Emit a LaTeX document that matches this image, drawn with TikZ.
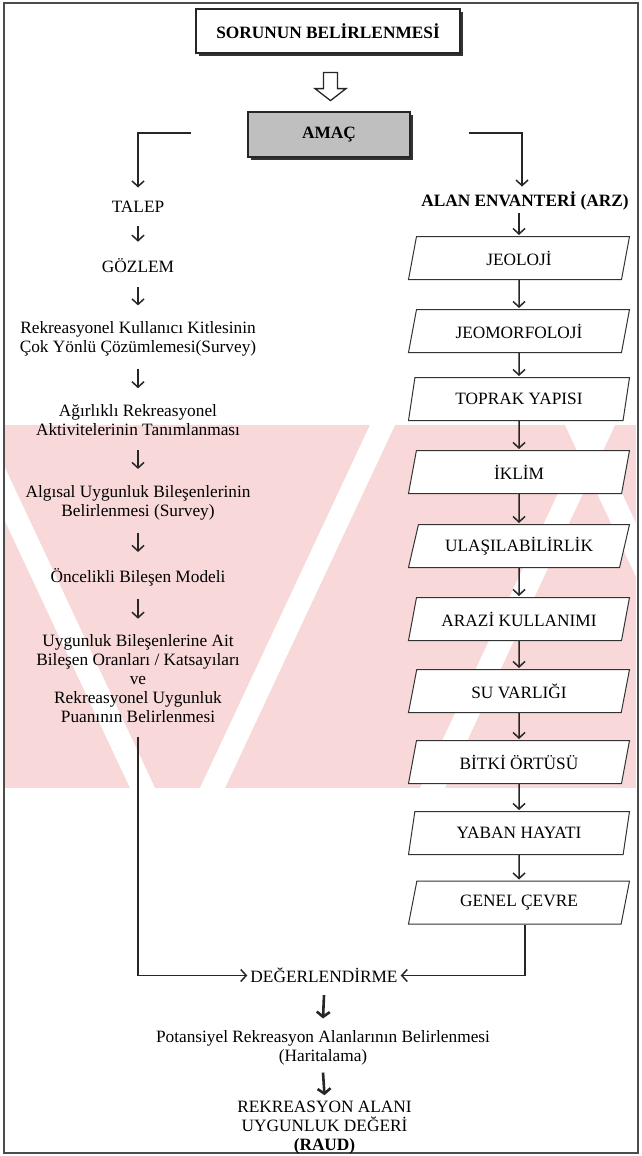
\documentclass[tikz,border=0pt]{standalone}
\usepackage{fontspec}
\setmainfont{Liberation Serif}
\usetikzlibrary{arrows.meta,shapes.geometric,calc,shadows}
\definecolor{wm}{RGB}{248,216,216}
\newcommand\fsz{\fontsize{17.3}{19}\selectfont}
\begin{document}
\begin{tikzpicture}[x=1pt,y=-1pt,
  every node/.style={font=\fsz, text=black, inner sep=0pt, align=center},
  bnode/.style={font=\fsz\bfseries},
  arr/.style={draw=black!85, line width=1.5pt, -{Straight Barb[length=5.5pt,width=12pt]}},
  barr/.style={draw=black!85, line width=2.6pt, -{Straight Barb[length=5pt,width=13pt]}},
  topbox/.style={draw=black!85, line width=1.2pt, fill=white, minimum width=264pt, minimum height=44pt,
     font=\fsz\bfseries, drop shadow={shadow xshift=3pt, shadow yshift=-3pt, fill=black!80, opacity=1}},
  amacbox/.style={draw=black!85, line width=1.2pt, fill=black!25, minimum width=162pt, minimum height=45pt,
     font=\fsz\bfseries, drop shadow={shadow xshift=3pt, shadow yshift=-3pt, fill=black!80, opacity=1}},
  para/.style={draw=black!80, line width=1pt, fill=white, trapezium, trapezium left angle=61,
     trapezium right angle=119, trapezium stretches body, minimum width=221pt, minimum height=43pt},
  hollow/.style={draw=black!85, line width=1.3pt, fill=white, line join=miter}
]
\useasboundingbox (0,0) rectangle (641,1156);
% watermark band
\begin{scope}
  \clip (5,425) rectangle (636,788);
  \fill[wm] (5,425) rectangle (636,788);
  \fill[white] (-40,425) -- (-15,425) -- (155,788) -- (130,788) -- cycle;
  \fill[white] (200,788) -- (225,788) -- (395,425) -- (370,425) -- cycle;
  \fill[white] (420,788) -- (445,788) -- (615,425) -- (590,425) -- cycle;
  \fill[white] (565,425) -- (590,425) -- (760,788) -- (735,788) -- cycle;
\end{scope}
% frame
\draw[line width=2.4pt, black!70] (4,3) rectangle (638,1153);

% top
\node[topbox] (sorun) at (328,31) {SORUNUN BELİRLENMESİ};
\node[amacbox] (amac) at (329,134.5) {AMAÇ};
\coordinate (ha) at ($(sorun.south)+(2.5,0)$);
\draw[hollow] ($(ha)+(-7,19)$) -- ($(ha)+(7,19)$) -- ($(ha)+(7,35)$) -- ($(ha)+(15.5,35)$)
   -- ($(ha)+(0,47)$) -- ($(ha)+(-15.5,35)$) -- ($(ha)+(-7,35)$) -- cycle;

% left column
\node (talep) at (138,206.4) {TALEP};
\node (gozlem) at (138,266) {GÖZLEM};
\node (rek) at (138,339) {Rekreasyonel Kullanıcı Kitlesinin\\Çok Yönlü Çözümlemesi(Survey)};
\node (agir) at (138,420) {Ağırlıklı Rekreasyonel\\Aktivitelerinin Tanımlanması};
\node (algi) at (138,502.5) {Algısal Uygunluk Bileşenlerinin\\Belirlenmesi (Survey)};
\node (once) at (138,577) {Öncelikli Bileşen Modeli};
\node (uyg) at (138,679) {Uygunluk Bileşenlerine Ait\\Bileşen Oranları / Katsayıları\\ve\\Rekreasyonel Uygunluk\\Puanının Belirlenmesi};

\draw[arr] ($(amac.west)+(-56,-1.5)$) -| ($(talep.north)+(0,-13)$);
\draw[arr] ($(talep.south)+(0,14)$) -- ($(gozlem.north)+(0,-17)$);
\draw[arr] ($(gozlem.south)+(0,14)$) -- ($(rek.north)+(0,-16)$);
\draw[arr] ($(rek.south)+(0,12)$) -- ($(agir.north)+(0,-16)$);
\draw[arr] ($(agir.south)+(0,14)$) -- ($(algi.north)+(0,-16)$);
\draw[arr] ($(algi.south)+(0,13)$) -- ($(once.north)+(0,-16)$);
\draw[arr] ($(once.south)+(0,13)$) -- ($(uyg.north)+(0,-16)$);

% right column
\node[bnode] (arz) at (525,201) {ALAN ENVANTERİ (ARZ)};
\node[para] (j1) at (519,258) {JEOLOJİ};
\node[para] (j2) at (519,331) {JEOMORFOLOJİ};
\node[para] (j3) at (519,399) {TOPRAK YAPISI};
\node[para] (j4) at (519,472) {İKLİM};
\node[para] (j5) at (519,546) {ULAŞILABİLİRLİK};
\node[para] (j6) at (519,619) {ARAZİ KULLANIMI};
\node[para] (j7) at (519,691) {SU VARLIĞI};
\node[para] (j8) at (519,762) {BİTKİ ÖRTÜSÜ};
\node[para] (j9) at (519,833) {YABAN HAYATI};
\node[para] (j10) at (519,902.5) {GENEL ÇEVRE};

\draw[arr] ($(amac.east)+(58,-1.5)$) -| ($(arz.north)+(-3,-5)$);
\draw[arr] ($(arz.south -| j1.north)+(0,3)$) -- ($(j1.north)+(0,-1)$);
\foreach \a/\b in {j1/j2,j2/j3,j3/j4,j4/j5,j5/j6,j6/j7,j7/j8,j8/j9,j9/j10}
  \draw[arr] (\a.south) -- ($(\b.north)+(0,-1)$);

% bottom
\node (deger) at (324,975.5) {DEĞERLENDİRME};
\node (pot) at (323,1048) {Potansiyel Rekreasyon Alanlarının Belirlenmesi\\(Haritalama)};
\node (raud) at (324.5,1128) {REKREASYON ALANI\\UYGUNLUK DEĞERİ\\\textbf{(RAUD)}};

\draw[arr, shorten >=3pt] ($(uyg.south)+(0,14)$) |- (deger.west);
\draw[arr, shorten >=3pt] ($(j10.south)+(6,0)$) |- (deger.east);
\draw[barr] ($(deger.south)+(0,12)$) -- ($(pot.north)+(0,-12)$);
\draw[barr] ($(pot.south)+(0,7)$) -- ($(raud.north)+(0,-6)$);
\end{tikzpicture}
\end{document}
